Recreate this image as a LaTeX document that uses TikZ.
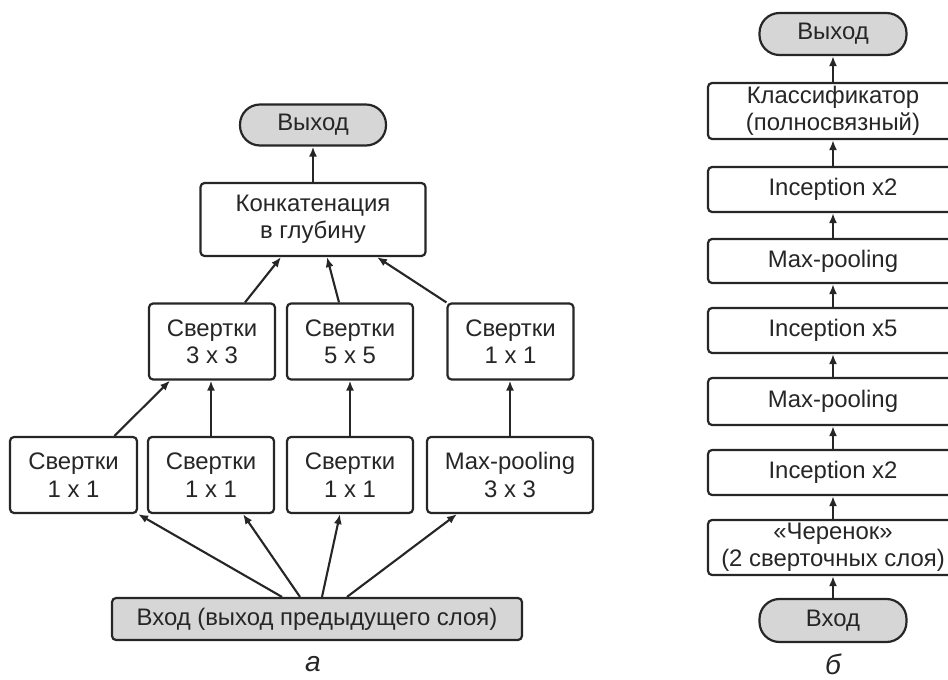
\documentclass[tikz,border=0pt]{standalone}
\usepackage{fontspec}
\setmainfont{Liberation Sans}
\usetikzlibrary{arrows.meta}
\definecolor{ink}{HTML}{262626}
\definecolor{shade}{HTML}{D6D6D6}
\tikzset{
  block/.style={rectangle, rounded corners=0.08cm, draw=ink, line width=1.25pt, fill=white, text=ink, align=center, font=\fontsize{13.6}{15.6}\selectfont, minimum height=1.52cm, minimum width=2.52cm, inner sep=0pt},
  pill/.style={rectangle, rounded corners=0.4cm, draw=ink, line width=1.25pt, fill=shade, text=ink, font=\fontsize{13.6}{15.6}\selectfont, minimum height=0.82cm, minimum width=2.92cm, inner sep=0pt},
  link/.style={draw=ink, line width=1.2pt, -{Latex[length=2mm, width=1.6mm]}}
}
\begin{document}
\begin{tikzpicture}[x=0.02cm, y=-0.02cm]
  \useasboundingbox (0,0) rectangle (948,680);
  % Nodes (a)
  \node (outA) [pill] at (313, 125) {Выход};
  \node (concat) [block, minimum width=4.5cm, minimum height=1.46cm] at (313, 219.5) {Конкатенация\\в глубину};
  \node (convA) [block] at (212, 341.5) {Свертки\\3 x 3};
  \node (convB) [block] at (350, 341.5) {Свертки\\5 x 5};
  \node (convC) [block] at (510.5, 341.5) {Свертки\\1 x 1};
  \node (redA) [block, minimum width=2.54cm] at (73.5, 475) {Свертки\\1 x 1};
  \node (redB) [block] at (211, 475) {Свертки\\1 x 1};
  \node (redC) [block] at (350, 475) {Свертки\\1 x 1};
  \node (pool) [block, minimum width=3.32cm] at (510, 475) {Max-pooling\\3 x 3};
  \node (inA) [pill, rounded corners=0.08cm, minimum width=8.2cm, minimum height=0.84cm] at (317, 619) {Вход (выход предыдущего слоя)};
  \node (capA) [text=ink, font=\fontsize{16}{18}\selectfont\itshape] at (313, 664) {а};
  % Nodes (b)
  \node (outB) [pill, minimum width=2.94cm, minimum height=0.84cm] at (833, 34) {Выход};
  \node (clf) [block, minimum width=5cm, minimum height=1.12cm] at (833, 111) {Классификатор\\(полносвязный)};
  \node (incC) [block, minimum width=5cm, minimum height=0.9cm] at (833, 189.5) {Inception x2};
  \node (poolB) [block, minimum width=5cm, minimum height=0.88cm] at (833, 261) {Max-pooling};
  \node (incB) [block, minimum width=5cm, minimum height=0.9cm] at (833, 330.5) {Inception x5};
  \node (poolA) [block, minimum width=5cm, minimum height=0.94cm] at (833, 401.5) {Max-pooling};
  \node (incA) [block, minimum width=5cm, minimum height=0.9cm] at (833, 472.5) {Inception x2};
  \node (stem) [block, minimum width=5cm, minimum height=1.1cm] at (833, 547.5) {«Черенок»\\(2 сверточных слоя)};
  \node (inB) [pill, minimum width=2.94cm, minimum height=0.86cm] at (833, 620.5) {Вход};
  \node (capB) [text=ink, font=\fontsize{16}{18}\selectfont\itshape] at (833, 664) {б};
  % Arrow (a)
  \draw[link] ([xshift=-0.7cm]inA.north) to (redA.south east);
  \draw[link] ([xshift=-0.34cm]inA.north) to ([xshift=0.64cm]redB.south);
  \draw[link] ([xshift=0.1cm]inA.north) to ([xshift=-0.2cm]redC.south);
  \draw[link] ([xshift=0.6cm]inA.north) to ([xshift=-1.06cm]pool.south);
  \draw[link] ([xshift=0.82cm]redA.north) to ([xshift=-0.84cm]convA.south);
  \draw[link] (redB.north) to (redB.north |- convA.south);
  \draw[link] (redC.north) to (convB.south);
  \draw[link] (pool.north) to (pool.north |- convC.south);
  \draw[link] ([xshift=0.66cm]convA.north) to ([xshift=-0.64cm]concat.south);
  \draw[link] ([xshift=-0.22cm]convB.north) to ([xshift=0.28cm]concat.south);
  \draw[link] (convC.north west) to ([xshift=1.28cm]concat.south);
  \draw[link] (concat) to (outA);
  % Arrow (b)
  \draw[link] (inB) to (stem);
  \draw[link] (stem) to (incA);
  \draw[link] (incA) to (poolA);
  \draw[link] (poolA) to (incB);
  \draw[link] (incB) to (poolB);
  \draw[link] (poolB) to (incC);
  \draw[link] (incC) to (clf);
  \draw[link] (clf) to (outB);
\end{tikzpicture}
\end{document}
